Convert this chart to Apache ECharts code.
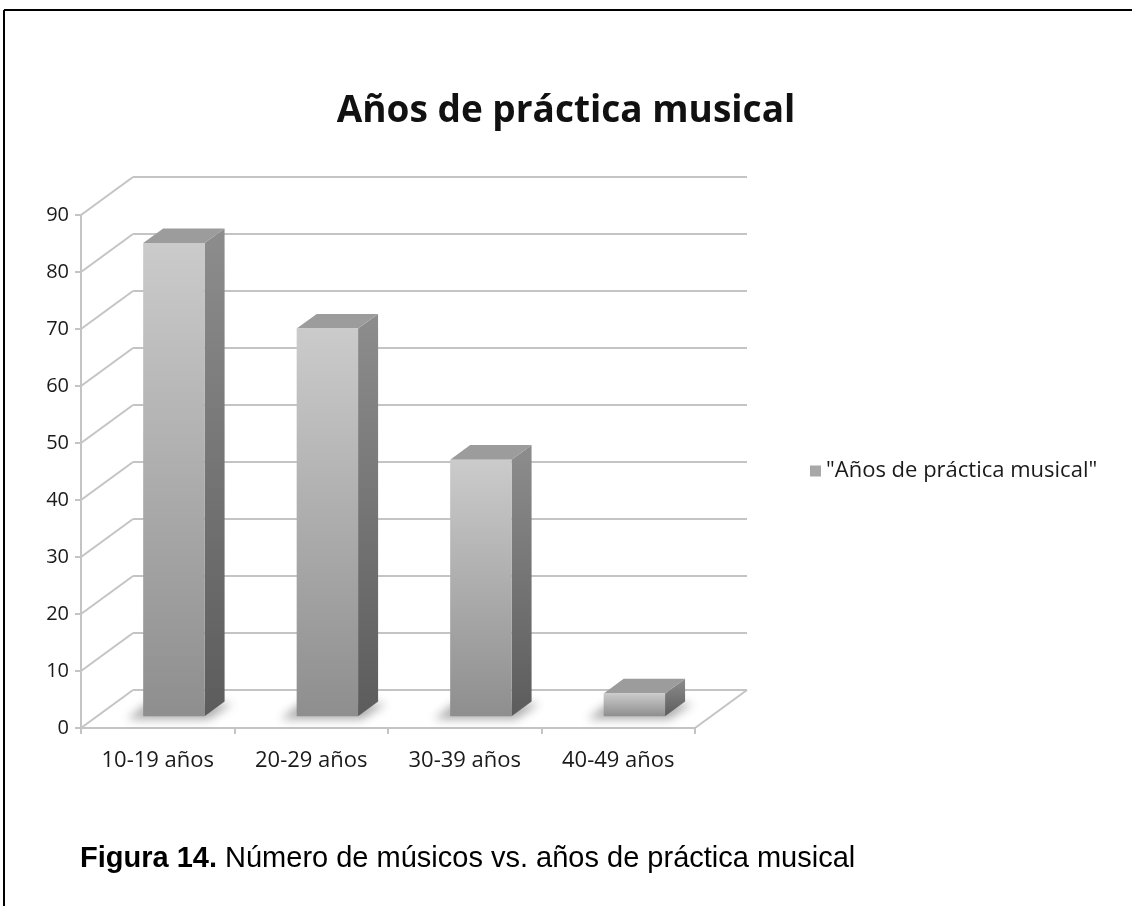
<!DOCTYPE html>
<html>
<head>
<meta charset="utf-8">
<script src="https://cdn.jsdelivr.net/npm/echarts@6/dist/echarts.min.js"></script>
<style>
  html, body { margin: 0; padding: 0; background: #ffffff; }
  #chart { width: 1132px; height: 906px; }
</style>
</head>
<body>
<div id="chart"></div>
<script>
// Chart data
const categories = ['10-19 años', '20-29 años', '30-39 años', '40-49 años'];
const musicians = [83, 68, 45, 4];
const yTicks = [0, 10, 20, 30, 40, 50, 60, 70, 80, 90];
const seriesName = '"Años de práctica musical"';
const chartTitle = 'Años de práctica musical';
const captionLabel = 'Figura 14.';
const captionText = ' Número de músicos vs. años de práctica musical';

// Pseudo-3D projection: offset from the front plane to the back wall
const DEPTH_DX = 52;
const DEPTH_DY = -38;
// Bars sit in the middle of the depth
const BAR_FRONT = 0.31;
const BAR_DEPTH = 0.385;
const BAR_WIDTH = 0.4;

const FRONT = { left: 81, top: 215, width: 614, height: 513 };
const BACK = {
  left: FRONT.left + DEPTH_DX, top: FRONT.top + DEPTH_DY,
  width: FRONT.width, height: FRONT.height
};

const labelFont = '"Open Sans", "DejaVu Sans", sans-serif';
const gridGray = '#c4c4c4';

const chart = echarts.init(document.getElementById('chart'), null, { renderer: 'canvas' });

// Side wall diagonals and the floor's right edge
function renderDepthLines(params, api) {
  const cs = params.coordSys;
  const v = api.value(1);
  const y = api.coord([0, v])[1];
  const children = [{
    type: 'line',
    shape: { x1: cs.x, y1: y, x2: cs.x + DEPTH_DX, y2: y + DEPTH_DY },
    style: { stroke: gridGray, lineWidth: 2 }
  }];
  if (v === yTicks[0]) {
    children.push({
      type: 'line',
      shape: { x1: cs.x + cs.width, y1: y, x2: cs.x + cs.width + DEPTH_DX, y2: y + DEPTH_DY },
      style: { stroke: gridGray, lineWidth: 2 }
    });
  }
  return { type: 'group', children: children };
}

// Box-shaped columns with a soft floor shadow
function renderBox(params, api) {
  const idx = api.value(0);
  const val = api.value(1);
  const base = api.coord([idx, 0]);
  const top = api.coord([idx, val]);
  const band = api.size([1, 0])[0];
  const w = band * BAR_WIDTH;
  const ox = DEPTH_DX * BAR_FRONT, oy = DEPTH_DY * BAR_FRONT;
  const dx = DEPTH_DX * BAR_DEPTH, dy = DEPTH_DY * BAR_DEPTH;
  const x0 = base[0] - w / 2 + ox, x1 = x0 + w;
  const yb = base[1] + oy, yt = top[1] + oy;
  const far = 3000;

  const shadowPts = [
    [x0 - 16, yb + 3], [x1 + 4, yb + 3],
    [x1 + dx + 8, yb + dy + 2], [x0 + dx - 16, yb + dy + 2]
  ].map(p => [p[0] - far, p[1]]);

  return {
    type: 'group',
    children: [
      {
        type: 'polygon', silent: true,
        shape: { points: shadowPts },
        style: {
          fill: 'rgba(0,0,0,1)', shadowBlur: 10,
          shadowColor: 'rgba(70,70,70,0.45)', shadowOffsetX: far
        }
      },
      {
        type: 'polygon',
        shape: { points: [[x1, yt], [x1 + dx, yt + dy], [x1 + dx, yb + dy], [x1, yb]] },
        style: {
          fill: new echarts.graphic.LinearGradient(0, 0, 0, 1, [
            { offset: 0, color: '#8d8d8d' }, { offset: 1, color: '#5c5c5c' }
          ])
        }
      },
      {
        type: 'polygon',
        shape: { points: [[x0, yt], [x0 + dx, yt + dy], [x1 + dx, yt + dy], [x1, yt]] },
        style: { fill: '#9c9c9c' }
      },
      {
        type: 'rect',
        shape: { x: x0, y: yt, width: w, height: yb - yt },
        style: {
          fill: new echarts.graphic.LinearGradient(0, 0, 0, 1, [
            { offset: 0, color: '#cbcbcb' }, { offset: 1, color: '#8e8e8e' }
          ])
        }
      }
    ]
  };
}

const option = {
  backgroundColor: '#ffffff',
  animation: false,
  title: {
    text: chartTitle,
    left: 'center',
    top: 88,
    textStyle: { fontFamily: labelFont, fontWeight: 'bold', fontSize: 37, color: '#111111' }
  },
  legend: {
    data: [seriesName],
    left: 805,
    top: 455,
    itemWidth: 11,
    itemHeight: 11,
    itemGap: 5,
    icon: 'rect',
    textStyle: { fontFamily: labelFont, fontSize: 22, color: '#1a1a1a' }
  },
  grid: [
    Object.assign({ containLabel: false }, FRONT),
    Object.assign({ containLabel: false }, BACK)
  ],
  xAxis: [
    {
      type: 'category', gridIndex: 0, data: categories,
      axisLine: { show: true, lineStyle: { color: gridGray, width: 2 } },
      axisTick: { show: true, length: 6, lineStyle: { color: gridGray, width: 2 } },
      axisLabel: { margin: 22, fontFamily: labelFont, fontSize: 22, color: '#1a1a1a' },
      splitLine: { show: false }
    },
    {
      type: 'category', gridIndex: 1, data: categories, show: false
    }
  ],
  yAxis: [
    {
      type: 'value', gridIndex: 0,
      min: yTicks[0], max: yTicks[yTicks.length - 1], interval: yTicks[1] - yTicks[0],
      axisLine: { show: true, lineStyle: { color: gridGray, width: 2 } },
      axisTick: { show: true, length: 6, lineStyle: { color: gridGray, width: 2 } },
      axisLabel: { margin: 12, fontFamily: labelFont, fontSize: 20, color: '#1a1a1a' },
      splitLine: { show: false }
    },
    {
      type: 'value', gridIndex: 1,
      min: yTicks[0], max: yTicks[yTicks.length - 1], interval: yTicks[1] - yTicks[0],
      axisLine: { show: false }, axisTick: { show: false }, axisLabel: { show: false },
      splitLine: { show: true, lineStyle: { color: gridGray, width: 2 } }
    }
  ],
  series: [
    {
      type: 'custom', name: 'depth', xAxisIndex: 0, yAxisIndex: 0, silent: true, z: 1,
      renderItem: renderDepthLines,
      data: yTicks.map(v => [0, v])
    },
    {
      type: 'custom', name: seriesName, xAxisIndex: 0, yAxisIndex: 0, z: 3,
      itemStyle: { color: '#a8a8a8' },
      renderItem: renderBox,
      data: musicians.map((v, i) => [i, v])
    }
  ],
  graphic: [
    {
      type: 'line', silent: true,
      shape: { x1: 4, y1: 10, x2: 1132, y2: 10 },
      style: { stroke: '#000000', lineWidth: 2 }
    },
    {
      type: 'line', silent: true,
      shape: { x1: 4, y1: 10, x2: 4, y2: 906 },
      style: { stroke: '#000000', lineWidth: 2 }
    },
    {
      type: 'text', silent: true,
      left: 80, top: 844,
      style: {
        text: '{b|' + captionLabel + '}{n|' + captionText + '}',
        rich: {
          b: { fontFamily: '"Liberation Sans", Arial, sans-serif', fontWeight: 'bold', fontSize: 29, fill: '#000000' },
          n: { fontFamily: '"Liberation Sans", Arial, sans-serif', fontSize: 29, fill: '#000000' }
        }
      }
    }
  ]
};

chart.setOption(option);
</script>
</body>
</html>
